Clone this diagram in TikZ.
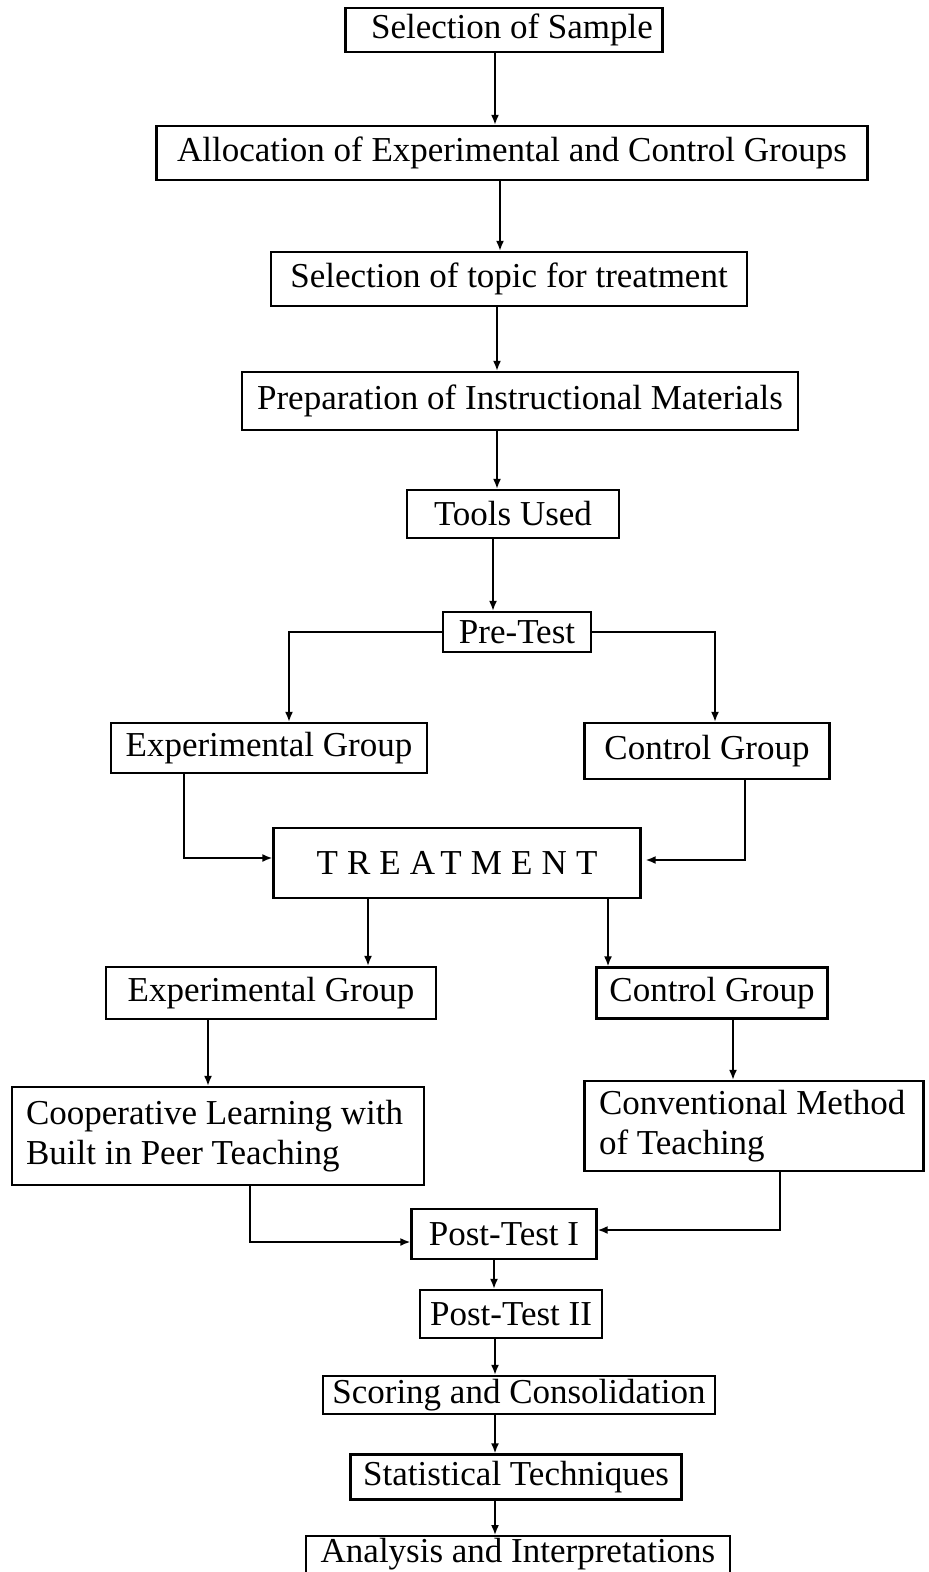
\documentclass[tikz,border=0pt]{standalone}
\usepackage{fontspec}
\setmainfont{Liberation Serif}
\usetikzlibrary{arrows.meta}

\begin{document}
\begin{tikzpicture}[x = 0.5pt, y = -0.5pt]
\tikzstyle{boxStyle}=[shape = rectangle, draw, line width = 1.2pt, inner sep = 1pt, font = \fontsize{17.5}{20}\selectfont]
\tikzstyle{arrowStyle}=[line width = 0.8pt, -{Latex[length=5pt, width=4pt]}]
\clip (0,0) rectangle (928,1572);
% main column
\node[boxStyle, minimum width = 158.5pt, minimum height = 22pt] (sample) at (504,30) {\hspace{8pt}Selection of Sample};
\node[boxStyle, minimum width = 355.5pt, minimum height = 27pt] (alloc) at (512,153) {Allocation of Experimental and Control Groups};
\node[boxStyle, minimum width = 238pt, minimum height = 27pt] (topic) at (509,279) {Selection of topic for treatment};
\node[boxStyle, minimum width = 278pt, minimum height = 29pt] (prep) at (520,401) {Preparation of Instructional Materials};
\node[boxStyle, minimum width = 106pt, minimum height = 24pt] (tools) at (513,514) {Tools Used};
\node[boxStyle, minimum width = 74pt, minimum height = 20pt] (pretest) at (517,632) {Pre-Test};
% groups before treatment
\node[boxStyle, minimum width = 158pt, minimum height = 25pt] (expA) at (269,748) {Experimental Group};
\node[boxStyle, minimum width = 122.5pt, minimum height = 28pt] (ctrlA) at (707,751) {Control Group};
\node[boxStyle, minimum width = 183.5pt, minimum height = 35pt] (treat) at (457,863) {\addfontfeature{LetterSpace=26}TREATMENT};
% groups after treatment
\node[boxStyle, minimum width = 165pt, minimum height = 26pt] (expB) at (271,993) {Experimental Group};
\node[boxStyle, minimum width = 115.5pt, minimum height = 25.5pt] (ctrlB) at (712,993) {Control Group};
\node[boxStyle, minimum width = 206pt, minimum height = 49pt, text width = 192pt, align = flush left] (coop) at (218,1136) {Cooperative Learning with\\Built in Peer Teaching};
\node[boxStyle, minimum width = 169.5pt, minimum height = 45pt, text width = 155pt, align = flush left] (conv) at (754,1126) {Conventional Method\\of Teaching};
% tests and analysis
\node[boxStyle, minimum width = 92.5pt, minimum height = 25pt] (postA) at (504,1234) {Post-Test I};
\node[boxStyle, minimum width = 91pt, minimum height = 24pt] (postB) at (511,1314) {Post-Test II};
\node[boxStyle, minimum width = 196pt, minimum height = 19pt] (scoring) at (519,1395) {Scoring and Consolidation};
\node[boxStyle, minimum width = 165.5pt, minimum height = 22.5pt] (stat) at (516,1477) {Statistical Techniques};
\node[boxStyle, anchor = north, minimum width = 212pt, text height = 12pt, text depth = 11pt] (analysis) at (518,1535) {Analysis and Interpretations};
% connectors
\draw[arrowStyle] ([xshift=-4.5pt]sample.south) -- ([xshift=-4.5pt]sample.south |- alloc.north);
\draw[arrowStyle] ([xshift=-6pt]alloc.south) -- ([xshift=-6pt]alloc.south |- topic.north);
\draw[arrowStyle] ([xshift=-6pt]topic.south) -- ([xshift=-6pt]topic.south |- prep.north);
\draw[arrowStyle] ([xshift=-11.5pt]prep.south) -- ([xshift=-11.5pt]prep.south |- tools.north);
\draw[arrowStyle] ([xshift=-10pt]tools.south) -- ([xshift=-10pt]tools.south |- pretest.north);
\draw[arrowStyle] (pretest.west) -| ([xshift=10pt]expA.north);
\draw[arrowStyle] (pretest.east) -| ([xshift=4pt]ctrlA.north);
\draw[arrowStyle] ([xshift=-42.5pt]expA.south) |- ([yshift=2.5pt]treat.west);
\draw[arrowStyle] ([xshift=19pt]ctrlA.south) |- ([yshift=1.5pt, xshift=2pt]treat.east);
\draw[arrowStyle] ([xshift=-44.5pt]treat.south) -- ([xshift=-44.5pt]treat.south |- expB.north);
\draw[arrowStyle] ([xshift=75.5pt]treat.south) -- ([xshift=75.5pt]treat.south |- ctrlB.north);
\draw[arrowStyle] ([xshift=-31.5pt]expB.south) -- ([xshift=-31.5pt]expB.south |- coop.north);
\draw[arrowStyle] ([xshift=10.5pt]ctrlB.south) -- ([xshift=10.5pt]ctrlB.south |- conv.north);
\draw[arrowStyle] ([xshift=16pt]coop.south) |- ([yshift=-4pt]postA.west);
\draw[arrowStyle] ([xshift=13pt]conv.south) |- ([yshift=2pt]postA.east);
\draw[arrowStyle] ([xshift=-5pt]postA.south) -- ([xshift=-5pt]postA.south |- postB.north);
\draw[arrowStyle] ([xshift=-8pt]postB.south) -- ([xshift=-8pt]postB.south |- scoring.north);
\draw[arrowStyle] ([xshift=-12pt]scoring.south) -- ([xshift=-12pt]scoring.south |- stat.north);
\draw[arrowStyle] ([xshift=-10.5pt]stat.south) -- ([xshift=-10.5pt]stat.south |- analysis.north);
\end{tikzpicture}
\end{document}
